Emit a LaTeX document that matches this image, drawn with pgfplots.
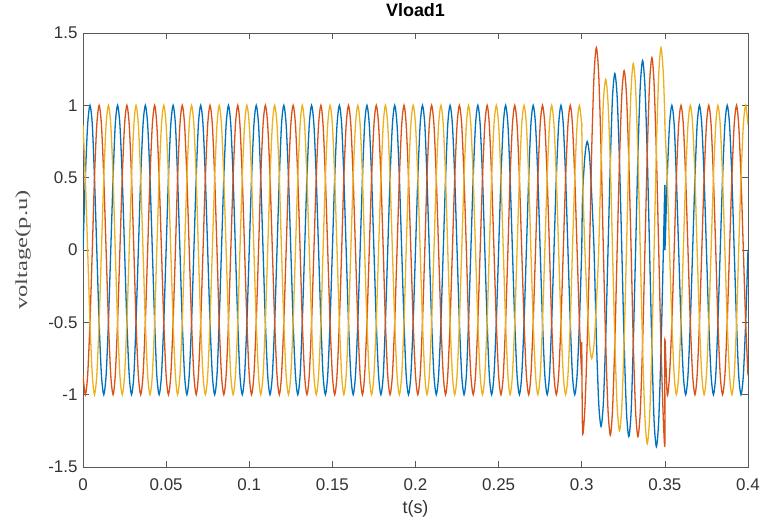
\documentclass[border=0pt]{standalone}
\usepackage{pgfplots}
\usepackage{pgfplotstable}
\usepackage{graphicx}
\usepackage{fontspec}
\pgfplotsset{compat=1.18}
\setmainfont{Liberation Sans}
\newfontfamily\seriffont{Liberation Serif}
\definecolor{mblue}{rgb}{0,0.447,0.741}
\definecolor{morange}{rgb}{0.85,0.325,0.098}
\definecolor{myellow}{rgb}{0.929,0.694,0.125}
\pgfplotstableread{
t a b c
0 0 -0.866 0.866
0.0014 0.5 -1 0.5
0.0028 0.866 -0.866 0
0.0042 1 -0.5 -0.5
0.0056 0.866 0 -0.866
0.0069 0.5 0.5 -1
0.0083 0 0.866 -0.866
0.0097 -0.5 1 -0.5
0.0111 -0.866 0.866 0
0.0125 -1 0.5 0.5
0.0139 -0.866 0 0.866
0.0153 -0.5 -0.5 1
0.0167 0 -0.866 0.866
0.0181 0.5 -1 0.5
0.0194 0.866 -0.866 0
0.0208 1 -0.5 -0.5
0.0222 0.866 0 -0.866
0.0236 0.5 0.5 -1
0.0250 0 0.866 -0.866
0.0264 -0.5 1 -0.5
0.0278 -0.866 0.866 0
0.0292 -1 0.5 0.5
0.0306 -0.866 0 0.866
0.0319 -0.5 -0.5 1
0.0333 0 -0.866 0.866
0.0347 0.5 -1 0.5
0.0361 0.866 -0.866 0
0.0375 1 -0.5 -0.5
0.0389 0.866 0 -0.866
0.0403 0.5 0.5 -1
0.0417 0 0.866 -0.866
0.0431 -0.5 1 -0.5
0.0444 -0.866 0.866 0
0.0458 -1 0.5 0.5
0.0472 -0.866 0 0.866
0.0486 -0.5 -0.5 1
0.0500 0 -0.866 0.866
0.0514 0.5 -1 0.5
0.0528 0.866 -0.866 0
0.0542 1 -0.5 -0.5
0.0556 0.866 0 -0.866
0.0569 0.5 0.5 -1
0.0583 0 0.866 -0.866
0.0597 -0.5 1 -0.5
0.0611 -0.866 0.866 0
0.0625 -1 0.5 0.5
0.0639 -0.866 0 0.866
0.0653 -0.5 -0.5 1
0.0667 0 -0.866 0.866
0.0681 0.5 -1 0.5
0.0694 0.866 -0.866 0
0.0708 1 -0.5 -0.5
0.0722 0.866 0 -0.866
0.0736 0.5 0.5 -1
0.0750 0 0.866 -0.866
0.0764 -0.5 1 -0.5
0.0778 -0.866 0.866 0
0.0792 -1 0.5 0.5
0.0806 -0.866 0 0.866
0.0819 -0.5 -0.5 1
0.0833 0 -0.866 0.866
0.0847 0.5 -1 0.5
0.0861 0.866 -0.866 0
0.0875 1 -0.5 -0.5
0.0889 0.866 0 -0.866
0.0903 0.5 0.5 -1
0.0917 0 0.866 -0.866
0.0931 -0.5 1 -0.5
0.0944 -0.866 0.866 0
0.0958 -1 0.5 0.5
0.0972 -0.866 0 0.866
0.0986 -0.5 -0.5 1
0.1000 0 -0.866 0.866
0.1014 0.5 -1 0.5
0.1028 0.866 -0.866 0
0.1042 1 -0.5 -0.5
0.1056 0.866 0 -0.866
0.1069 0.5 0.5 -1
0.1083 0 0.866 -0.866
0.1097 -0.5 1 -0.5
0.1111 -0.866 0.866 0
0.1125 -1 0.5 0.5
0.1139 -0.866 0 0.866
0.1153 -0.5 -0.5 1
0.1167 0 -0.866 0.866
0.1181 0.5 -1 0.5
0.1194 0.866 -0.866 0
0.1208 1 -0.5 -0.5
0.1222 0.866 0 -0.866
0.1236 0.5 0.5 -1
0.1250 0 0.866 -0.866
0.1264 -0.5 1 -0.5
0.1278 -0.866 0.866 0
0.1292 -1 0.5 0.5
0.1306 -0.866 0 0.866
0.1319 -0.5 -0.5 1
0.1333 0 -0.866 0.866
0.1347 0.5 -1 0.5
0.1361 0.866 -0.866 0
0.1375 1 -0.5 -0.5
0.1389 0.866 0 -0.866
0.1403 0.5 0.5 -1
0.1417 0 0.866 -0.866
0.1431 -0.5 1 -0.5
0.1444 -0.866 0.866 0
0.1458 -1 0.5 0.5
0.1472 -0.866 0 0.866
0.1486 -0.5 -0.5 1
0.1500 0 -0.866 0.866
0.1514 0.5 -1 0.5
0.1528 0.866 -0.866 0
0.1542 1 -0.5 -0.5
0.1556 0.866 0 -0.866
0.1569 0.5 0.5 -1
0.1583 0 0.866 -0.866
0.1597 -0.5 1 -0.5
0.1611 -0.866 0.866 0
0.1625 -1 0.5 0.5
0.1639 -0.866 0 0.866
0.1653 -0.5 -0.5 1
0.1667 0 -0.866 0.866
0.1681 0.5 -1 0.5
0.1694 0.866 -0.866 0
0.1708 1 -0.5 -0.5
0.1722 0.866 0 -0.866
0.1736 0.5 0.5 -1
0.1750 0 0.866 -0.866
0.1764 -0.5 1 -0.5
0.1778 -0.866 0.866 0
0.1792 -1 0.5 0.5
0.1806 -0.866 0 0.866
0.1819 -0.5 -0.5 1
0.1833 0 -0.866 0.866
0.1847 0.5 -1 0.5
0.1861 0.866 -0.866 0
0.1875 1 -0.5 -0.5
0.1889 0.866 0 -0.866
0.1903 0.5 0.5 -1
0.1917 0 0.866 -0.866
0.1931 -0.5 1 -0.5
0.1944 -0.866 0.866 0
0.1958 -1 0.5 0.5
0.1972 -0.866 0 0.866
0.1986 -0.5 -0.5 1
0.2000 0 -0.866 0.866
0.2014 0.5 -1 0.5
0.2028 0.866 -0.866 0
0.2042 1 -0.5 -0.5
0.2056 0.866 0 -0.866
0.2069 0.5 0.5 -1
0.2083 0 0.866 -0.866
0.2097 -0.5 1 -0.5
0.2111 -0.866 0.866 0
0.2125 -1 0.5 0.5
0.2139 -0.866 0 0.866
0.2153 -0.5 -0.5 1
0.2167 0 -0.866 0.866
0.2181 0.5 -1 0.5
0.2194 0.866 -0.866 0
0.2208 1 -0.5 -0.5
0.2222 0.866 0 -0.866
0.2236 0.5 0.5 -1
0.2250 0 0.866 -0.866
0.2264 -0.5 1 -0.5
0.2278 -0.866 0.866 0
0.2292 -1 0.5 0.5
0.2306 -0.866 0 0.866
0.2319 -0.5 -0.5 1
0.2333 0 -0.866 0.866
0.2347 0.5 -1 0.5
0.2361 0.866 -0.866 0
0.2375 1 -0.5 -0.5
0.2389 0.866 0 -0.866
0.2403 0.5 0.5 -1
0.2417 0 0.866 -0.866
0.2431 -0.5 1 -0.5
0.2444 -0.866 0.866 0
0.2458 -1 0.5 0.5
0.2472 -0.866 0 0.866
0.2486 -0.5 -0.5 1
0.2500 0 -0.866 0.866
0.2514 0.5 -1 0.5
0.2528 0.866 -0.866 0
0.2542 1 -0.5 -0.5
0.2556 0.866 0 -0.866
0.2569 0.5 0.5 -1
0.2583 0 0.866 -0.866
0.2597 -0.5 1 -0.5
0.2611 -0.866 0.866 0
0.2625 -1 0.5 0.5
0.2639 -0.866 0 0.866
0.2653 -0.5 -0.5 1
0.2667 0 -0.866 0.866
0.2681 0.5 -1 0.5
0.2694 0.866 -0.866 0
0.2708 1 -0.5 -0.5
0.2722 0.866 0 -0.866
0.2736 0.5 0.5 -1
0.2750 0 0.866 -0.866
0.2764 -0.5 1 -0.5
0.2778 -0.866 0.866 0
0.2792 -1 0.5 0.5
0.2806 -0.866 0 0.866
0.2819 -0.5 -0.5 1
0.2833 0 -0.866 0.866
0.2847 0.5 -1 0.5
0.2861 0.866 -0.866 0
0.2875 1 -0.5 -0.5
0.2889 0.866 0 -0.866
0.2903 0.5 0.5 -1
0.2917 0 0.866 -0.866
0.2931 -0.5 1 -0.5
0.2944 -0.866 0.866 0
0.2958 -1 0.5 0.5
0.2972 -0.866 0 0.866
0.2986 -0.5 -0.5 1
0.3000 0 -0.866 0.866
0.3000 0 -0.64 0.866
0.3005 0.375 -1.26 0.5
0.3019 0.65 -1.091 0
0.3033 0.75 -0.63 -0.375
0.3047 0.65 0 -0.65
0.3060 0.375 0.7 -0.75
0.3074 0 1.212 -0.65
0.3088 -0.61 1.4 -0.375
0.3102 -1.057 1.212 0
0.3116 -1.22 0.7 0.59
0.3130 -1.057 0 1.022
0.3144 -0.61 -0.64 1.18
0.3158 0 -1.108 1.022
0.3172 0.61 -1.28 0.59
0.3185 1.057 -1.108 0
0.3199 1.22 -0.64 -0.625
0.3213 1.057 0 -1.083
0.3227 0.61 0.62 -1.25
0.3241 0 1.074 -1.083
0.3255 -0.645 1.24 -0.625
0.3269 -1.117 1.074 0
0.3283 -1.29 0.62 0.645
0.3297 -1.117 0 1.117
0.3310 -0.645 -0.645 1.29
0.3324 0 -1.117 1.117
0.3338 0.655 -1.29 0.645
0.3352 1.134 -1.117 0
0.3366 1.31 -0.645 -0.67
0.3380 1.134 0 -1.16
0.3394 0.655 0.665 -1.34
0.3408 0 1.152 -1.16
0.3422 -0.68 1.33 -0.67
0.3435 -1.178 1.152 0
0.3449 -1.36 0.665 0.7
0.3463 -1.178 0 1.212
0.3477 -0.68 -0.68 1.4
0.3491 0 -1.178 1.212
0.3500 0.45 -1.34 0.9
0.3500 0 -0.62 0.866
0.3514 0.5 -1 0.5
0.3528 0.866 -0.866 0
0.3542 1 -0.5 -0.5
0.3556 0.866 0 -0.866
0.3569 0.5 0.5 -1
0.3583 0 0.866 -0.866
0.3597 -0.5 1 -0.5
0.3611 -0.866 0.866 0
0.3625 -1 0.5 0.5
0.3639 -0.866 0 0.866
0.3653 -0.5 -0.5 1
0.3667 0 -0.866 0.866
0.3681 0.5 -1 0.5
0.3694 0.866 -0.866 0
0.3708 1 -0.5 -0.5
0.3722 0.866 0 -0.866
0.3736 0.5 0.5 -1
0.3750 0 0.866 -0.866
0.3764 -0.5 1 -0.5
0.3778 -0.866 0.866 0
0.3792 -1 0.5 0.5
0.3806 -0.866 0 0.866
0.3819 -0.5 -0.5 1
0.3833 0 -0.866 0.866
0.3847 0.5 -1 0.5
0.3861 0.866 -0.866 0
0.3875 1 -0.5 -0.5
0.3889 0.866 0 -0.866
0.3903 0.5 0.5 -1
0.3917 0 0.866 -0.866
0.3931 -0.5 1 -0.5
0.3944 -0.866 0.866 0
0.3958 -1 0.5 0.5
0.3972 -0.866 0 0.866
0.3986 -0.5 -0.5 1
0.4000 0 -0.866 0.866
}\vload
\begin{document}
\begin{tikzpicture}
\begin{axis}[
  scale only axis, width=665bp, height=434bp,
  xmin=0, xmax=0.4, ymin=-1.5, ymax=1.5,
  xtick={0,0.05,0.1,0.15,0.2,0.25,0.3,0.35,0.4},
  xticklabels={0,0.05,0.1,0.15,0.2,0.25,0.3,0.35,0.4},
  ytick={-1.5,-1,-0.5,0,0.5,1,1.5},
  yticklabels={-1.5,-1,-0.5,0,0.5,1,1.5},
  tick align=inside, tick pos=both, major tick length=6bp,
  axis line style={draw=black!65, line width=0.7bp},
  tick style={draw=black!65, line width=0.6bp},
  /pgf/number format/assume math mode=true,
  ticklabel style={font=\fontsize{17}{17}\selectfont, text=black!80},
  xticklabel style={yshift=-8bp},
  yticklabel style={xshift=-2bp},
  title={Vload1},
  title style={font=\bfseries\fontsize{18}{18}\selectfont, at={(axis description cs:0.5,1.0392)}, anchor=center},
  xlabel={t(s)},
  xlabel style={font=\fontsize{18}{18}\selectfont, text=black!80, at={(axis description cs:0.5,-0.0968)}, anchor=center},
  ylabel={\seriffont\scalebox{1.45}[1]{voltage(p.u)}},
  ylabel style={font=\fontsize{17}{17}\selectfont, text=black!70, at={(axis description cs:-0.0900,0.5)}, anchor=center},
  every axis plot/.append style={line width=1.3bp, no markers, smooth, tension=0.45},
]
\addplot[mblue] table[x=t, y=a] {\vload};
\addplot[morange] table[x=t, y=b] {\vload};
\addplot[myellow] table[x=t, y=c] {\vload};
\end{axis}
\pgfresetboundingbox
\path ([shift={(-83bp,-55bp)}]current axis.south west) rectangle ([shift={(12bp,33bp)}]current axis.north east);
\end{tikzpicture}
\end{document}
